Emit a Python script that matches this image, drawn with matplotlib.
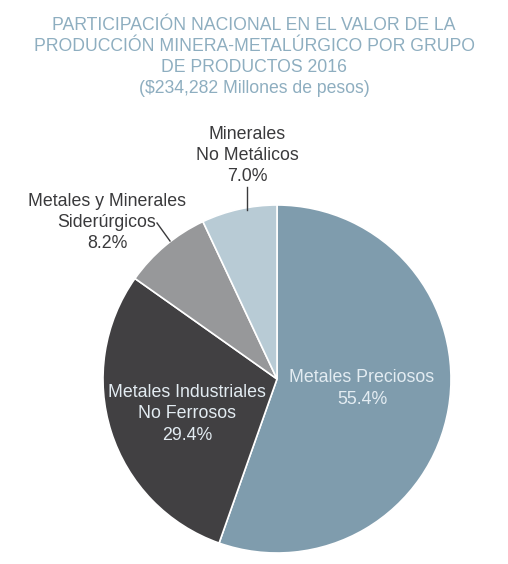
import matplotlib
matplotlib.use("Agg")
import matplotlib.pyplot as plt

# Data
categories = ["Metales Preciosos", "Metales Industriales\nNo Ferrosos",
              "Metales y Minerales\nSiderúrgicos", "Minerales\nNo Metálicos"]
shares = [55.4, 29.4, 8.2, 7.0]
colors = ["#7f9cad", "#414042", "#97989a", "#b8cbd5"]

title_lines = ["PARTICIPACIÓN NACIONAL EN EL VALOR DE LA",
               "PRODUCCIÓN MINERA-METALÚRGICO POR GRUPO",
               "DE PRODUCTOS 2016",
               "($234,282 Millones de pesos)"]

W, H = 508, 564
plt.rcParams["font.family"] = ["Liberation Sans", "DejaVu Sans"]

fig = plt.figure(figsize=(W / 100, H / 100), dpi=100)

# pie axes placed by pixel centre / radius
cx, cy, r = 277, 379, 174
pax = fig.add_axes([(cx - r) / W, (H - cy - r) / H, 2 * r / W, 2 * r / H])
pax.pie(shares, colors=colors, startangle=90, counterclock=False,
        wedgeprops=dict(edgecolor="white", linewidth=1.2))
pax.set_xlim(-1, 1)
pax.set_ylim(-1, 1)
pax.set_aspect("equal")
pax.axis("off")

# overlay axes in pixel coordinates for texts
ax = fig.add_axes([0, 0, 1, 1])
ax.set_xlim(0, W)
ax.set_ylim(H, 0)
ax.axis("off")

title_color = "#8eaec0"
for i, line in enumerate(title_lines):
    ax.text(W / 2, 29.5 + 21.3 * i, line, ha="center", va="baseline",
            fontsize=12.7, color=title_color)

lab_fs = 12.8
dark = "#3a3a3c"
light = "#e3ecf2"

# labels inside
ax.text(362, 388.5, f"{categories[0]}\n{shares[0]:.1f}%", ha="center",
        va="center", fontsize=lab_fs, color=light, linespacing=1.33)
ax.text(187, 414, f"{categories[1]}\n{shares[1]:.1f}%",
        ha="center", va="center", fontsize=lab_fs, color=light,
        linespacing=1.33)

# labels outside
ax.text(107, 222.5, f"{categories[2]}\n{shares[2]:.1f}%",
        ha="center", va="center", fontsize=lab_fs, color=dark,
        linespacing=1.33)
ax.text(247, 155.5, f"{categories[3]}\n{shares[3]:.1f}%",
        ha="center", va="center", fontsize=lab_fs, color=dark,
        linespacing=1.33)

# leader lines
ax.plot([247, 247], [187, 210], color=dark, lw=1)
ax.plot([157, 170], [223, 241], color=dark, lw=1)

fig.savefig("out.png", dpi=100)
